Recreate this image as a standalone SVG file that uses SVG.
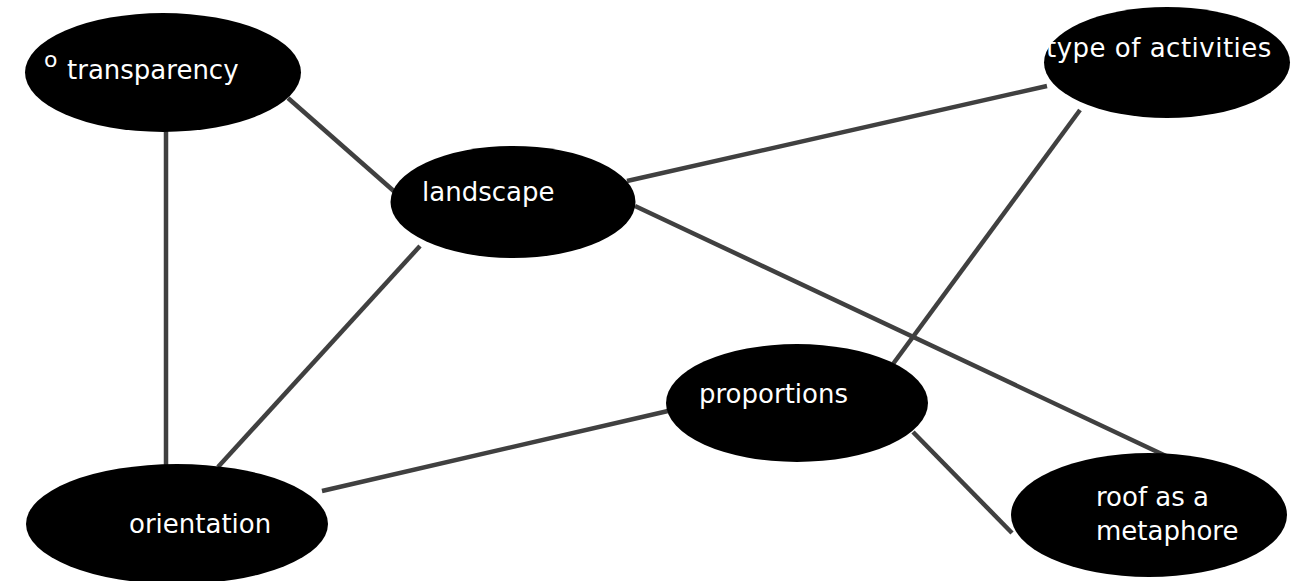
<svg xmlns="http://www.w3.org/2000/svg" width="1307" height="581" viewBox="0 0 1307 581">
<style>
.n{fill:#000}
.t{fill:#fff;font-family:"DejaVu Sans",Verdana,sans-serif;font-size:26px}
.e{stroke:#404040;stroke-width:4.5;fill:none}
</style>
<rect width="1307" height="581" fill="#fff"/>
<g id="connectors">
<line class="e" x1="166" y1="130" x2="166" y2="468"/>
<line class="e" x1="288" y1="98" x2="396" y2="193"/>
<line class="e" x1="627" y1="181" x2="1047" y2="86"/>
<line class="e" x1="1080" y1="110" x2="893" y2="364"/>
<line class="e" x1="635" y1="206" x2="1166" y2="456"/>
<line class="e" x1="420" y1="246" x2="218" y2="467"/>
<line class="e" x1="322" y1="491" x2="668" y2="411"/>
<line class="e" x1="913" y1="432" x2="1012" y2="533"/>
</g>
<g id="transparency">
<ellipse class="n" cx="163" cy="72.5" rx="138" ry="59.5"/>
<text class="t" x="44" y="67" style="font-size:22px">o</text>
<text class="t" x="67" y="79">transparency</text>
</g>
<g id="type-of-activities">
<ellipse class="n" cx="1167" cy="62.5" rx="123" ry="55.5"/>
<text class="t" x="1046" y="57" style="letter-spacing:0.5px">type of activities</text>
</g>
<g id="landscape">
<ellipse class="n" cx="513" cy="202" rx="122.5" ry="56"/>
<text class="t" x="422" y="201">landscape</text>
</g>
<g id="proportions">
<ellipse class="n" cx="797" cy="403" rx="131" ry="59"/>
<text class="t" x="699" y="403">proportions</text>
</g>
<g id="orientation">
<ellipse class="n" cx="177" cy="524" rx="151" ry="60"/>
<text class="t" x="129" y="533">orientation</text>
</g>
<g id="roof-as-a-metaphore">
<ellipse class="n" cx="1149" cy="515" rx="138" ry="62"/>
<text class="t" x="1096" y="506">roof as a</text>
<text class="t" x="1096" y="540">metaphore</text>
</g>
</svg>
